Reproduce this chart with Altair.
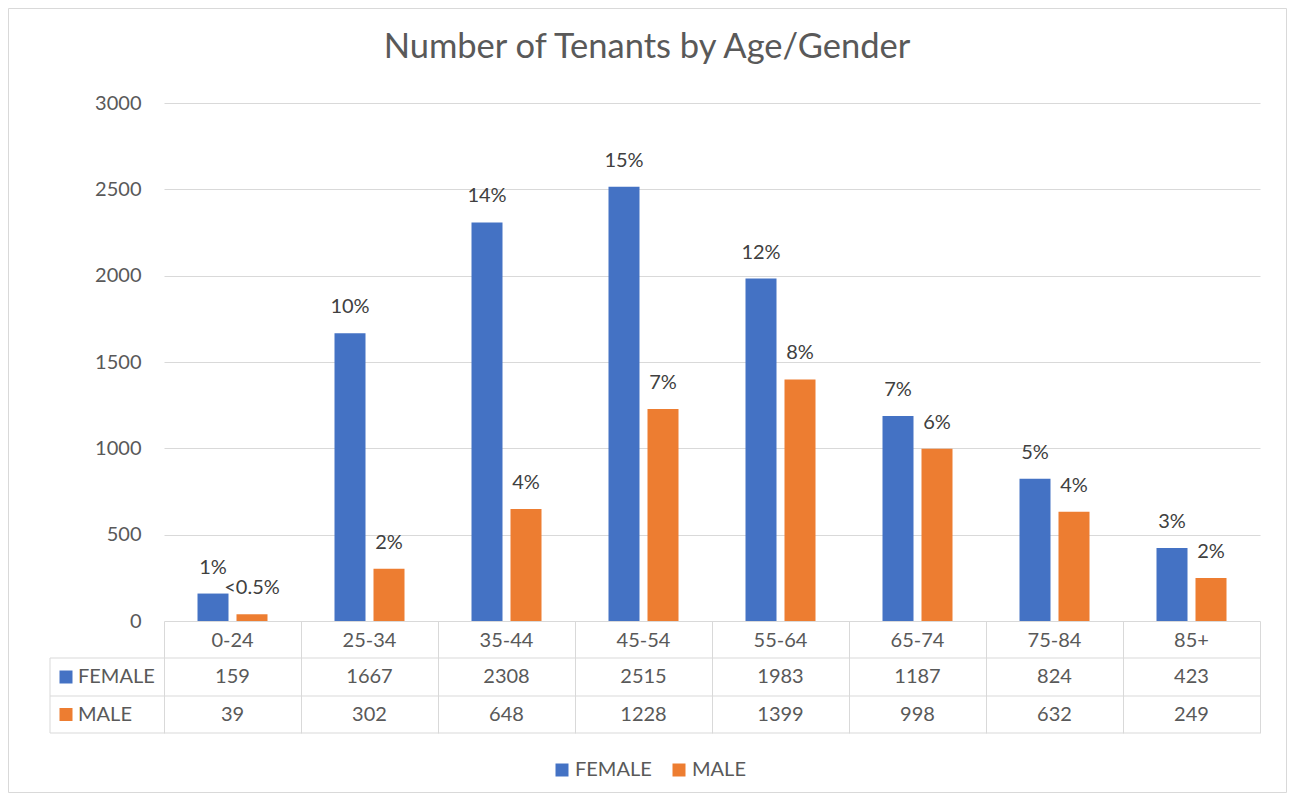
import altair as alt
import pandas as pd

ages = ["0-24", "25-34", "35-44", "45-54", "55-64", "65-74", "75-84", "85+"]
female = [159, 1667, 2308, 2515, 1983, 1187, 824, 423]
male = [39, 302, 648, 1228, 1399, 998, 632, 249]
female_pct = ["1%", "10%", "14%", "15%", "12%", "7%", "5%", "3%"]
male_pct = ["<0.5%", "2%", "4%", "7%", "8%", "6%", "4%", "2%"]
genders = ["FEMALE", "MALE"]
colors = ["#4472C4", "#ED7D31"]
y_ticks = [0, 500, 1000, 1500, 2000, 2500, 3000]
title_text = "Number of Tenants by Age/Gender"

rows = []
for a, f, m, fp, mp in zip(ages, female, male, female_pct, male_pct):
    rows.append({"age": a, "gender": "FEMALE", "count": f, "pct": fp})
    rows.append({"age": a, "gender": "MALE", "count": m, "pct": mp})
df = pd.DataFrame(rows)

FONT = "Lato"
TXT = "#595959"
LINE = "#D9D9D9"
W, H = 1096, 518

x_enc = alt.X(
    "age:N", sort=ages,
    scale=alt.Scale(paddingInner=0, paddingOuter=0),
    axis=alt.Axis(labels=False, title=None, domain=False, ticks=True,
                  tickBand="extent", tickSize=112, tickColor=LINE,
                  tickWidth=1, grid=False),
)
xoff_enc = alt.XOffset(
    "gender:N", sort=genders,
    scale=alt.Scale(paddingInner=0.205, paddingOuter=0.859),
)
y_enc = alt.Y(
    "count:Q", scale=alt.Scale(domain=[0, 3000]),
    axis=alt.Axis(values=y_ticks, format="d", title=None, domain=False,
                  ticks=False, labelPadding=23, labelFontSize=20,
                  labelFont=FONT, labelColor=TXT, gridColor=LINE,
                  gridWidth=1),
)
color_enc = alt.Color(
    "gender:N", sort=genders,
    scale=alt.Scale(domain=genders, range=colors),
    legend=alt.Legend(orient="none", legendX=388, legendY=657,
                      direction="horizontal", title=None,
                      symbolType="square", symbolSize=169,
                      symbolStrokeWidth=0, labelFontSize=20,
                      labelFont=FONT, labelColor=TXT, columnPadding=17,
                      labelOffset=3, padding=0),
)

base = alt.Chart(df)

bars = base.mark_bar().encode(x=x_enc, xOffset=xoff_enc, y=y_enc, color=color_enc)

pct_labels = base.mark_text(
    dy=-26, baseline="middle", fontSize=20, font=FONT, color="#404040"
).encode(x=alt.X("age:N", sort=ages), xOffset=alt.XOffset("gender:N", sort=genders),
         y="count:Q", text="pct:N")

header = base.transform_filter(alt.datum.gender == "FEMALE").mark_text(
    baseline="middle", fontSize=20, font=FONT, color=TXT
).encode(x=alt.X("age:N", sort=ages), y=alt.value(538), text="age:N")

layers = [bars, pct_labels, header]

row_y = {"FEMALE": 574, "MALE": 611.5}
for g, c in zip(genders, colors):
    layers.append(
        base.transform_filter(alt.datum.gender == g).mark_text(
            baseline="middle", fontSize=20, font=FONT, color=TXT
        ).encode(x=alt.X("age:N", sort=ages), y=alt.value(row_y[g]), text="count:Q")
    )
    one = alt.Chart(pd.DataFrame({"gender": [g]}))
    layers.append(
        one.mark_square(size=169, color=c, opacity=1, filled=True).encode(
            x=alt.value(-98), y=alt.value(row_y[g]))
    )
    layers.append(
        one.mark_text(align="left", baseline="middle", fontSize=20, font=FONT,
                      color=TXT).encode(
            x=alt.value(-86), y=alt.value(row_y[g]), text="gender:N")
    )

dummy = alt.Chart(pd.DataFrame({"k": [0]}))
for yy in [555, 593, 630]:
    layers.append(dummy.mark_rule(color=LINE, strokeWidth=1).encode(
        x=alt.value(-114), x2=alt.value(W), y=alt.value(yy)))
layers.append(dummy.mark_rule(color=LINE, strokeWidth=1).encode(
    x=alt.value(-114), y=alt.value(555), y2=alt.value(630)))
layers.append(dummy.mark_rect(fill="transparent", stroke=LINE, strokeWidth=1).encode(
    x=alt.value(-155.5), x2=alt.value(1122.5), y=alt.value(-94.5), y2=alt.value(689.5)))

title_df = pd.DataFrame({"t": [title_text]})
layers.append(alt.Chart(title_df).mark_text(
    align="center", baseline="middle", fontSize=34.5, font=FONT, color=TXT
).encode(x=alt.value(483), y=alt.value(-55), text="t:N"))

chart = alt.layer(*layers).properties(
    width=W, height=H,
    background="white",
    autosize=alt.AutoSizeParams(type="none"),
    padding={"left": 156, "top": 95, "right": 27, "bottom": 172},
).configure_view(stroke="transparent", strokeWidth=0)

chart.save("out.html", embed_options={"renderer": "svg", "actions": False})
